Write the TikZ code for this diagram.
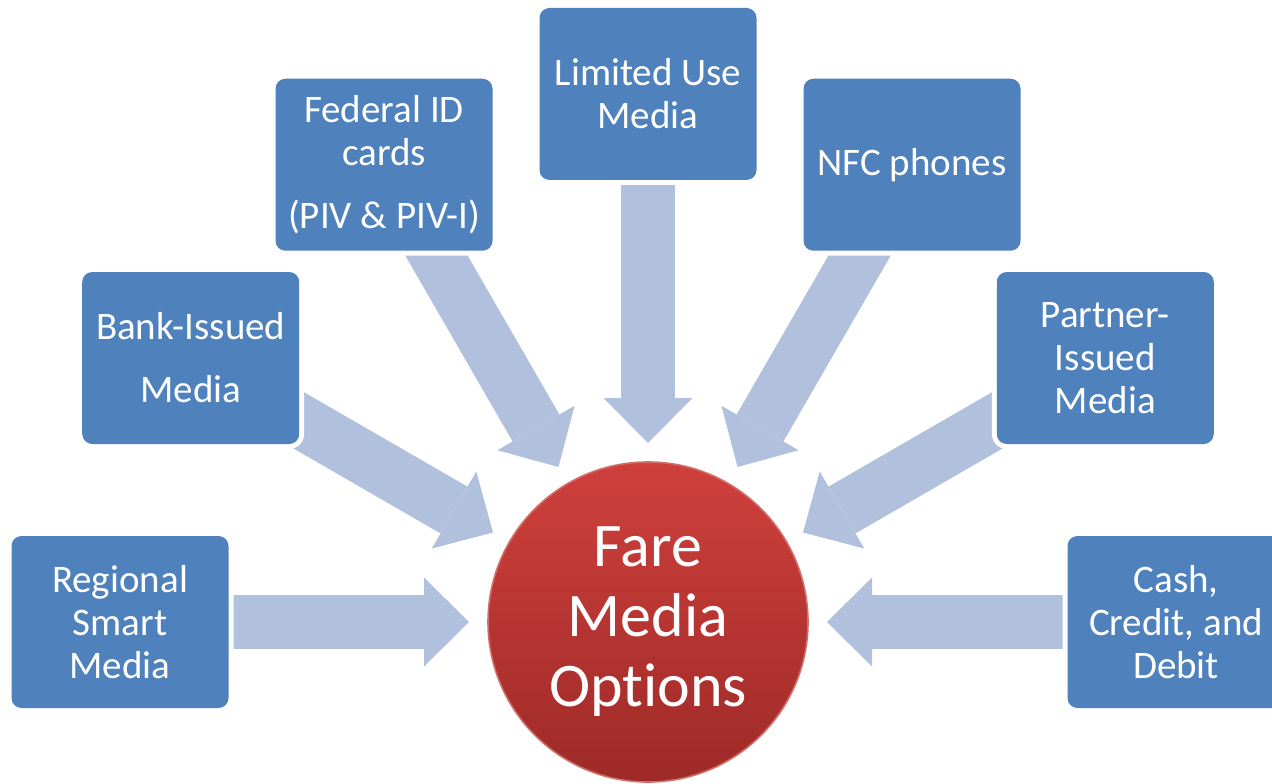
\documentclass[tikz,border=0pt]{standalone}
\usepackage{fontspec}
\setmainfont{Carlito}[Ligatures=NoCommon]
\usetikzlibrary{arrows.meta,backgrounds,calc}

\definecolor{boxblue}{RGB}{79,129,189}
\definecolor{flowblue}{RGB}{177,193,221}
\definecolor{hubtop}{RGB}{207,64,60}
\definecolor{hubbottom}{RGB}{158,42,40}
\definecolor{hubrim}{RGB}{210,110,105}

\begin{document}
\begin{tikzpicture}[x=0.5pt, y=0.5pt]
\tikzset{
	media box/.style = {rectangle, rounded corners=5pt, fill=boxblue,
		preaction={draw=white, line width=5pt},
		minimum width=108.5pt, minimum height=86pt, inner sep=0, outer sep=0,
		align=center, text=white, font=\fontsize{19.5}{21.5}\selectfont},
	hub node/.style = {circle, minimum size=160pt, inner sep=0, outer sep=0,
		top color=hubtop, bottom color=hubbottom, draw=hubrim, line width=0.8pt,
		align=center, text=white, font=\fontsize{31}{35}\selectfont},
	feed arrow/.style = {draw=flowblue, line width=27pt, shorten >=9.5pt,
		-{Triangle[width=44.5pt, length=22.5pt, line width'=0pt]}},
}

\useasboundingbox (0,0) rectangle (1272,783);

\node(hub)[hub node] at (648,161) {Fare\\Media\\Options};

\node(regional)[media box] at ($(hub)+(180:528)$) {Regional\\Smart\\Media};
\node(bank)[media box] at ($(hub)+(150:528)$) {Bank-Issued\\[10pt]Media};
\node(federal)[media box] at ($(hub)+(120:528)$) {Federal ID\\cards\\[10pt](PIV \& PIV-I)};
\node(limited)[media box] at ($(hub)+(90:528)$) {Limited Use\\Media};
\node(nfc)[media box] at ($(hub)+(60:528)$) {NFC phones};
\node(partner)[media box] at ($(hub)+(30:528)$) {Partner-\\Issued\\Media};
\node(cash)[media box] at ($(hub)+(0:528)$) {Cash,\\Credit, and\\Debit};

\begin{scope}[on background layer]
\foreach \src in {regional,bank,federal,limited,nfc,partner,cash}
	\draw[feed arrow] (\src.center) -- (hub);
\end{scope}

\end{tikzpicture}
\end{document}
